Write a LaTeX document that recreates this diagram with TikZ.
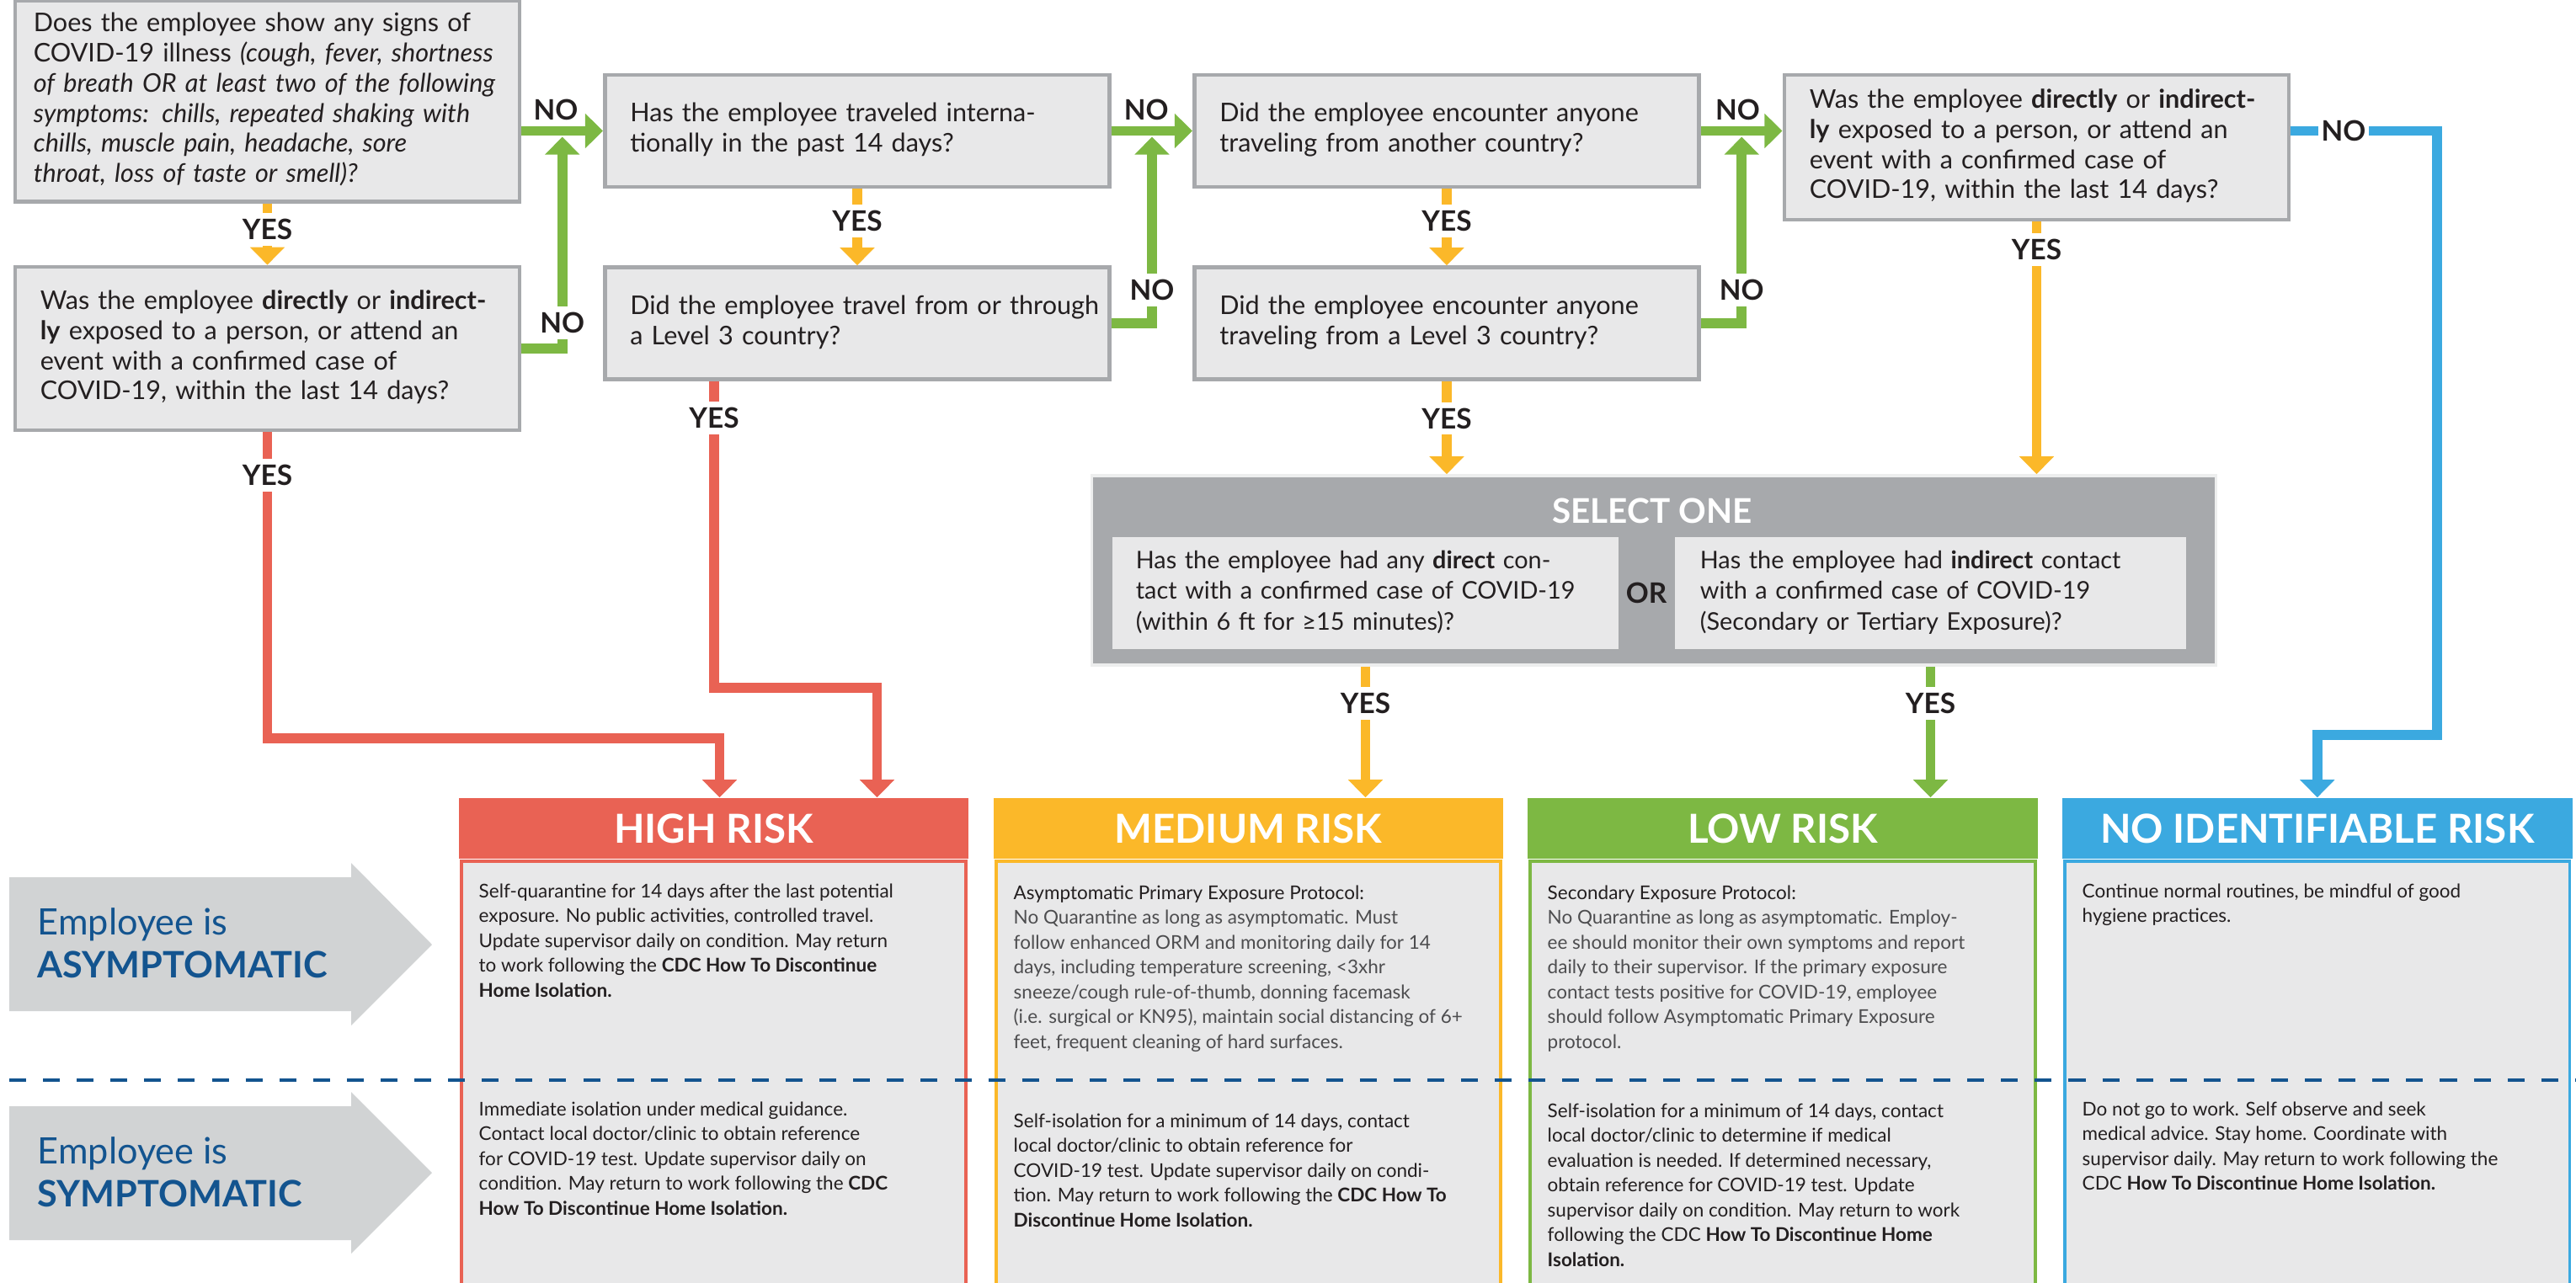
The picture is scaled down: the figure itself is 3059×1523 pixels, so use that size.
\documentclass[tikz,border=0pt]{standalone}
\usepackage{fontspec}
\setmainfont{Lato}
\usetikzlibrary{arrows.meta,positioning,calc}

\definecolor{boxfill}{HTML}{E8E8E9}
\definecolor{boxline}{HTML}{A7A9AC}
\definecolor{ink}{HTML}{231F20}
\definecolor{softink}{HTML}{4D4D4F}
\definecolor{riskgreen}{HTML}{7DB843}
\definecolor{riskorange}{HTML}{FBB829}
\definecolor{riskred}{HTML}{E96254}
\definecolor{riskblue}{HTML}{3BA9E0}
\definecolor{navy}{HTML}{13548F}
\definecolor{rowgray}{HTML}{D1D3D4}

\newcommand{\qfnt}{\fontsize{8.7}{10.2}\selectfont}
\newcommand{\cfnt}{\fontsize{8.2}{10.4}\selectfont}
\newcommand{\rfnt}{\fontsize{6.4}{8.4}\selectfont}
\newcommand{\lblfnt}{\fontsize{9.5}{11}\selectfont\bfseries}
\newcommand{\qlines}[1]{\begin{tabular}{@{}l@{}}#1\end{tabular}}

\tikzset{
  qbox/.style={draw=boxline, line width=1.3pt, fill=boxfill, text=ink, font=\qfnt, align=left,
    inner xsep=0.3cm, text width=5.39cm, minimum height=#1},
  cbox/.style={fill=boxfill, text=ink, font=\cfnt, align=left, inner xsep=0.28cm,
    text width=#1, minimum height=1.33cm},
  link/.style={draw=#1, line width=3.4pt, -{Triangle[width=11.4pt,length=6pt]}},
  lbl/.style={fill=white, text=ink, font=\lblfnt, inner xsep=1pt, inner ysep=2pt},
  rhead/.style={fill=#1, text=white, font=\fontsize{13.5}{15}\selectfont\bfseries,
    minimum width=6.05cm, minimum height=0.72cm, inner sep=0pt},
  rbody/.style={draw=#1, fill=boxfill, line width=1.1pt, minimum width=5.99cm,
    minimum height=5.2cm, inner sep=0pt},
  rtext/.style={anchor=north west, text=ink, font=\rfnt, align=left, inner sep=0pt},
  rowtext/.style={anchor=west, text=navy, align=left, inner sep=0pt,
    font=\fontsize{12.3}{14.5}\selectfont}
}

\begin{document}
\begin{tikzpicture}[x=0.01cm, y=-0.01cm]
\useasboundingbox (0,0) rectangle (3059,1523);

\node[qbox=2.28cm, inner xsep=0.22cm, text width=5.55cm] (symptoms) at (317.5,120)
  {\qlines{Does the employee show any signs of\\
   COVID-19 illness \textit{(cough, fever, shortness}\\
   \textit{of breath OR at least two of the following}\\
   \textit{symptoms: chills, repeated shaking with}\\
   \textit{chills, muscle pain, headache, sore}\\
   \textit{throat, loss of taste or smell)?}}};
\node[qbox=1.94cm] (exposed) at (317.5,414)
  {\qlines{Was the employee \textbf{directly} or \textbf{indirect-}\\
   \textbf{ly} exposed to a person, or attend an\\
   event with a confirmed case of\\
   COVID-19, within the last 14 days?}};
\node[qbox=1.33cm] (abroad) at (1018,155.5)
  {\raisebox{0.15cm}{\qlines{Has the employee traveled interna-\\
   tionally in the past 14 days?}}};
\node[qbox=1.33cm] (level3) at (1018,384)
  {\qlines{Did the employee travel from or through\\
   a Level 3 country?}};
\node[qbox=1.33cm] (met) at (1718,155.5)
  {\raisebox{0.15cm}{\qlines{Did the employee encounter anyone\\
   traveling from another country?}}};
\node[qbox=1.33cm] (metlvl) at (1718,384)
  {\qlines{Did the employee encounter anyone\\
   traveling from a Level 3 country?}};
\node[qbox=1.72cm] (exposedb) at (2418.5,175)
  {\qlines{Was the employee \textbf{directly} or \textbf{indirect-}\\
   \textbf{ly} exposed to a person, or attend an\\
   event with a confirmed case of\\
   COVID-19, within the last 14 days?}};

\node[draw=white!80!boxline, line width=1pt, fill=boxline, minimum width=13.34cm,
  minimum height=2.25cm] (select) at (1964,677.5) {};
\node[text=white, font=\fontsize{11.5}{13}\selectfont\bfseries] (selecttitle) at (1962,607) {SELECT ONE};
\node[cbox=5.45cm] (direct) at (1621.5,704.5)
  {\qlines{Has the employee had any \textbf{direct} con-\\
   tact with a confirmed case of COVID-19\\
   (within 6 ft for ≥15 minutes)?}};
\node[cbox=5.47cm, inner xsep=0.3cm] (indirect) at (2292.5,704.5)
  {\raisebox{0.1cm}{\qlines{Has the employee had \textbf{indirect} contact\\
   with a confirmed case of COVID-19\\
   (Secondary or Tertiary Exposure)?}}};
\node[text=ink, font=\lblfnt] (or) at (1955,704) {OR};

\node[rhead=riskred] (high) at (847.5,984) {HIGH RISK};
\node[rhead=riskorange, right=0.28cm of high] (medium) {MEDIUM RISK};
\node[rhead=riskgreen, right=0.28cm of medium] (low) {LOW RISK};
\node[rhead=riskblue, right=0.28cm of low] (none) {NO IDENTIFIABLE RISK};
\node[rbody=riskred, below=0pt of high] (highbody) {};
\node[rbody=riskorange, below=0pt of medium] (mediumbody) {};
\node[rbody=riskgreen, below=0pt of low] (lowbody) {};
\node[rbody=riskblue, below=0pt of none] (nonebody) {};

\node[rtext] (highasym) at (568,1049)
  {Self-quarantine for 14 days after the last potential\\
   exposure. No public activities, controlled travel.\\
   Update supervisor daily on condition. May return\\
   to work following the \textbf{CDC How To Discontinue}\\
   \textbf{Home Isolation.}};
\node[rtext] (highsym) at (568,1308)
  {Immediate isolation under medical guidance.\\
   Contact local doctor/clinic to obtain reference\\
   for COVID-19 test. Update supervisor daily on\\
   condition. May return to work following the \textbf{CDC}\\
   \textbf{How To Discontinue Home Isolation.}};
\node[rtext, text=softink] (medasym) at (1203,1051)
  {\textcolor{ink}{Asymptomatic Primary Exposure Protocol:}\\
   No Quarantine as long as asymptomatic. Must\\
   follow enhanced ORM and monitoring daily for 14\\
   days, including temperature screening, <3xhr\\
   sneeze/cough rule-of-thumb, donning facemask\\
   (i.e. surgical or KN95), maintain social distancing of 6+\\
   feet, frequent cleaning of hard surfaces.};
\node[rtext] (medsym) at (1203,1322)
  {Self-isolation for a minimum of 14 days, contact\\
   local doctor/clinic to obtain reference for\\
   COVID-19 test. Update supervisor daily on condi-\\
   tion. May return to work following the \textbf{CDC How To}\\
   \textbf{Discontinue Home Isolation.}};
\node[rtext, text=softink] (lowasym) at (1837,1051)
  {\textcolor{ink}{Secondary Exposure Protocol:}\\
   No Quarantine as long as asymptomatic. Employ-\\
   ee should monitor their own symptoms and report\\
   daily to their supervisor. If the primary exposure\\
   contact tests positive for COVID-19, employee\\
   should follow Asymptomatic Primary Exposure\\
   protocol.};
\node[rtext] (lowsym) at (1837,1310)
  {Self-isolation for a minimum of 14 days, contact\\
   local doctor/clinic to determine if medical\\
   evaluation is needed. If determined necessary,\\
   obtain reference for COVID-19 test. Update\\
   supervisor daily on condition. May return to work\\
   following the CDC \textbf{How To Discontinue Home}\\
   \textbf{Isolation.}};
\node[rtext] (noneasym) at (2472,1049)
  {Continue normal routines, be mindful of good\\
   hygiene practices.};
\node[rtext] (nonesym) at (2472,1308)
  {Do not go to work. Self observe and seek\\
   medical advice. Stay home. Coordinate with\\
   supervisor daily. May return to work following the\\
   CDC \textbf{How To Discontinue Home Isolation.}};

\draw[navy, line width=1.1pt, dash pattern=on 5.7pt off 5.7pt] (11,1283) -- (3059,1283);

\fill[rowgray] (11,1042) -- (417,1042) -- (417,1025) -- (513,1122) -- (417,1218) -- (417,1201) -- (11,1201) -- cycle;
\fill[rowgray] (11,1314) -- (417,1314) -- (417,1297) -- (513,1393) -- (417,1489) -- (417,1473) -- (11,1473) -- cycle;
\node[rowtext] (asym) at (44,1120) {Employee is\\\textbf{ASYMPTOMATIC}};
\node[rowtext] (sym) at (44,1392) {Employee is\\\textbf{SYMPTOMATIC}};

\path (symptoms.east |- abroad.west) -- coordinate[pos=.5] (j1) (abroad.west);
\path (abroad.east) -- coordinate[pos=.5] (j2) (met.west);
\path (met.east) -- coordinate[pos=.5] (j3) (met.east -| exposedb.west);

\draw[link=riskgreen] (symptoms.east |- abroad.west) -- node[lbl, above=0pt, pos=.42] {NO} (abroad.west);
\draw[link=riskgreen] (exposed.east) -| node[lbl, pos=.56] {NO} ($(j1)+(0,7)$);
\draw[link=riskgreen] (abroad.east) -- node[lbl, above=0pt, pos=.43] {NO} (met.west);
\draw[link=riskgreen] (level3.east) -| node[lbl, pos=.59] {NO} ($(j2)+(0,7)$);
\draw[link=riskgreen] (met.east) -- node[lbl, above=0pt, pos=.45] {NO} (met.east -| exposedb.west);
\draw[link=riskgreen] (metlvl.east) -| node[lbl, pos=.59] {NO} ($(j3)+(0,7)$);

\draw[link=riskorange] (symptoms.south) -- node[lbl, pos=.42] {YES} (exposed.north);
\draw[link=riskorange] (abroad.south) -- node[lbl, pos=.42] {YES} (level3.north);
\draw[link=riskorange] (met.south) -- node[lbl, pos=.42] {YES} (metlvl.north);
\draw[link=riskorange] (metlvl.south) -- node[lbl, pos=.4] {YES} (metlvl.south |- select.north);
\draw[link=riskorange] (exposedb.south) -- node[lbl, pos=.11] {YES} (exposedb.south |- select.north);
\draw[link=riskorange] (direct.south |- select.south) -- node[lbl, pos=.28] {YES} (direct.south |- medium.north);
\draw[link=riskgreen] (indirect.south |- select.south) -- node[lbl, pos=.28] {YES} (indirect.south |- low.north);

\draw[link=riskred] (exposed.south) -- node[lbl, pos=.14] {YES} ++(0,364) -| ($(high.north)+(7,0)$);
\draw[link=riskred] ($(level3.south)+(-170,0)$) -- node[lbl, pos=.12] {YES} ++(0,364) -| ($(high.north)+(194,0)$);

\draw[link=riskblue] (exposedb.east |- met.east) -| node[lbl, pos=.18] {NO} ($(none.north)+(142,-74)$) -| (none.north);
\end{tikzpicture}
\end{document}
